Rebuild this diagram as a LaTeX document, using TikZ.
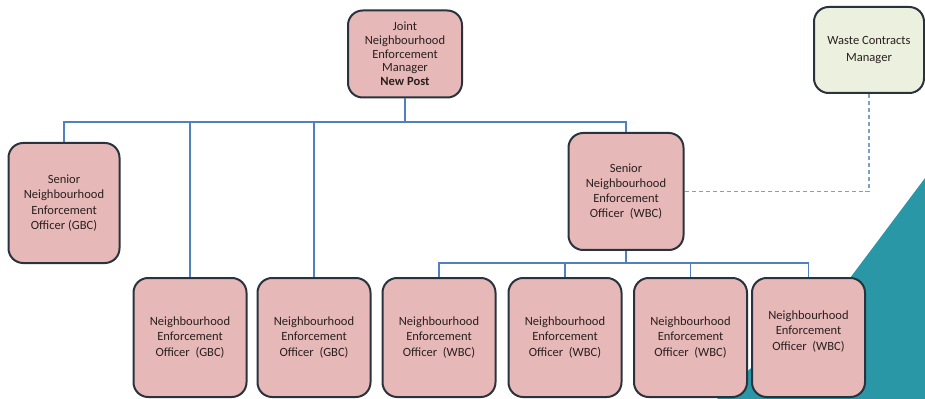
\documentclass[tikz,border=0pt]{standalone}
\usepackage{fontspec}
\setmainfont{Carlito}
\usetikzlibrary{positioning,calc}
\definecolor{postFill}{HTML}{E6B9B8}
\definecolor{postLine}{HTML}{29323D}
\definecolor{wasteFill}{HTML}{EBF1DE}
\definecolor{connColor}{HTML}{4F81BD}
\definecolor{dashColor}{HTML}{819FC6}
\definecolor{tealColor}{HTML}{2A97A7}
\definecolor{txtColor}{HTML}{2A1F1F}
\tikzset{
	post/.style={draw=postLine, line width=1.5pt, fill=postFill, rounded corners=11pt,
		align=center, inner sep=0, text=txtColor,
		font=\fontsize{9.4}{11.4}\selectfont},
	officer/.style={post, minimum width=84.75pt, minimum height=89.25pt},
	conn/.style={draw=connColor, line width=1.1pt},
	dashline/.style={draw=dashColor, line width=0.9pt, dash pattern=on 3pt off 2.2pt}
}

\begin{document}
\begin{tikzpicture}[x=0.75pt, y=-0.75pt]
	\useasboundingbox (0,0) rectangle (925,399);
	\fill[tealColor] (925,178) -- (850,278) -- (717,399) -- (925,399) -- cycle;
	\node[post, minimum width=85.5pt, minimum height=65.25pt, font=\fontsize{9.4}{10.3}\selectfont] (mgr) at (405,54) {Joint\\Neighbourhood\\Enforcement\\Manager\\\textbf{New Post}};
	\node[post, fill=wasteFill, minimum width=82.5pt, minimum height=64.5pt, font=\fontsize{9.4}{13}\selectfont] (waste) at (869,50) {Waste Contracts\\Manager};
	\node[post, minimum width=83.25pt, minimum height=90pt] (sgbc) at (64,203) {Senior\\Neighbourhood\\Enforcement\\Officer (GBC)};
	\node[post, minimum width=86.25pt, minimum height=87.75pt] (swbc) at (626,191.5) {Senior\\Neighbourhood\\Enforcement\\Officer~ (WBC)};
	\node[officer] (ngbc1) at (190,337.5) {Neighbourhood\\Enforcement\\Officer~ (GBC)};
	\node[officer] (ngbc2) at (314,337.5) {Neighbourhood\\Enforcement\\Officer~ (GBC)};
	\node[officer] (nwbc1) at (439,337.5) {Neighbourhood\\Enforcement\\Officer~ (WBC)};
	\node[officer] (nwbc2) at (565,337.5) {Neighbourhood\\Enforcement\\Officer~ (WBC)};
	\node[officer] (nwbc3) at (690.5,337.5) {Neighbourhood\\Enforcement\\Officer~ (WBC)};
	\node[officer] (nwbc4) at (808.5,337.5) {Neighbourhood\\Enforcement\\Officer~ (WBC)\\[-1pt]};
	% upper level
	\coordinate (topbus) at (405,122);
	\draw[conn] (mgr.south) -- (topbus);
	\draw[conn] (sgbc.north) |- (topbus) -| (swbc.north);
	\foreach \n in {ngbc1,ngbc2}
		\draw[conn] (\n.north) -- (\n.north |- topbus);
	% lower level
	\coordinate (lowbus) at (626,263);
	\draw[conn] (swbc.south) -- (lowbus);
	\draw[conn] (nwbc1.north) |- (lowbus) -| (nwbc4.north);
	\foreach \n in {nwbc2,nwbc3}
		\draw[conn] (\n.north) -- (\n.north |- lowbus);
	%\draw[conn] (waste) -- (swbc);
	\draw[dashline] (waste.south) |- (swbc.east);
\end{tikzpicture}
\end{document}
